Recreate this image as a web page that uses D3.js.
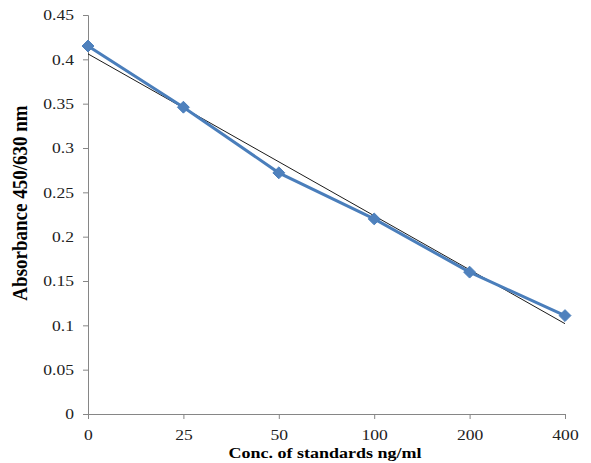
<!DOCTYPE html>
<html lang="en">
<head>
<meta charset="utf-8">
<title>standard curve</title>
<script src="https://d3js.org/d3.v7.min.js"></script>
<style>
  body { margin: 0; background: #fff; }
  .tick text { font-family: "Liberation Serif", "Times New Roman", serif; font-size: 15px; fill: #222; }
  .axis-title { font-family: "Liberation Serif", "Times New Roman", serif; font-weight: bold; fill: #000; }
</style>
</head>
<body>
<div id="chart"></div>
<script>
var concLabels = ["0", "25", "50", "100", "200", "400"];
var absorbance = [0.415, 0.346, 0.272, 0.220, 0.160, 0.111];
var yTicks = [0, 0.05, 0.1, 0.15, 0.2, 0.25, 0.3, 0.35, 0.4, 0.45];

var width = 591, height = 463;
var margin = {top: 15, right: 26, bottom: 49, left: 88};
var stretch = 1.17; // text in the original is a bit wide

var svg = d3.select("#chart").append("svg")
  .attr("width", width)
  .attr("height", height);

var x = d3.scalePoint()
  .domain(concLabels)
  .range([margin.left, width - margin.right]);

var y = d3.scaleLinear()
  .domain([0, 0.45])
  .range([height - margin.bottom, margin.top]);

// y axis
var yAxis = svg.append("g")
  .attr("transform", "translate(" + margin.left + ",0)")
  .call(d3.axisLeft(y).tickValues(yTicks).tickSize(5).tickPadding(7)
    .tickFormat(function(d) { return String(+d.toFixed(2)); }));
yAxis.selectAll("path, line").attr("stroke", "#868686");
yAxis.selectAll(".tick text").attr("transform", "scale(" + stretch + ",1)");

// x axis
var xAxis = svg.append("g")
  .attr("transform", "translate(0," + y(0) + ")")
  .call(d3.axisBottom(x).tickSize(5).tickPadding(10).tickSizeOuter(0));
xAxis.selectAll("path, line").attr("stroke", "#868686");
xAxis.selectAll(".tick text").attr("transform", "scale(" + stretch + ",1)");

// linear trendline (least squares on category index)
var n = absorbance.length;
var mx = d3.mean(d3.range(n));
var my = d3.mean(absorbance);
var sxy = d3.sum(absorbance, function(v, i) { return (i - mx) * (v - my); });
var sxx = d3.sum(d3.range(n), function(i) { return (i - mx) * (i - mx); });
var slope = sxy / sxx, icpt = my - slope * mx;

svg.append("line")
  .attr("x1", x(concLabels[0]))
  .attr("y1", y(icpt))
  .attr("x2", x(concLabels[n - 1]))
  .attr("y2", y(icpt + slope * (n - 1)))
  .attr("stroke", "#000")
  .attr("stroke-width", 0.9);

// data line
var line = d3.line()
  .x(function(d, i) { return x(concLabels[i]); })
  .y(function(d) { return y(d); });

svg.append("path")
  .datum(absorbance)
  .attr("d", line)
  .attr("fill", "none")
  .attr("stroke", "#4a7ebb")
  .attr("stroke-width", 3);

svg.selectAll(".pt")
  .data(absorbance)
  .enter().append("path")
  .attr("class", "pt")
  .attr("d", d3.symbol().type(d3.symbolDiamond2).size(90))
  .attr("transform", function(d, i) { return "translate(" + x(concLabels[i]) + "," + y(d) + ")"; })
  .attr("fill", "#4f81bd")
  .attr("stroke", "#4a7ebb")
  .attr("stroke-width", 1);

// axis titles
svg.append("text")
  .attr("class", "axis-title")
  .attr("text-anchor", "middle")
  .attr("font-size", 15)
  .attr("transform", "translate(325,458) scale(1.2,1)")
  .text("Conc. of standards ng/ml");

svg.append("text")
  .attr("class", "axis-title")
  .attr("text-anchor", "middle")
  .attr("font-size", 19)
  .attr("transform", "translate(27,203) scale(1.1,1) rotate(-90)")
  .text("Absorbance 450/630 nm");
</script>
</body>
</html>
